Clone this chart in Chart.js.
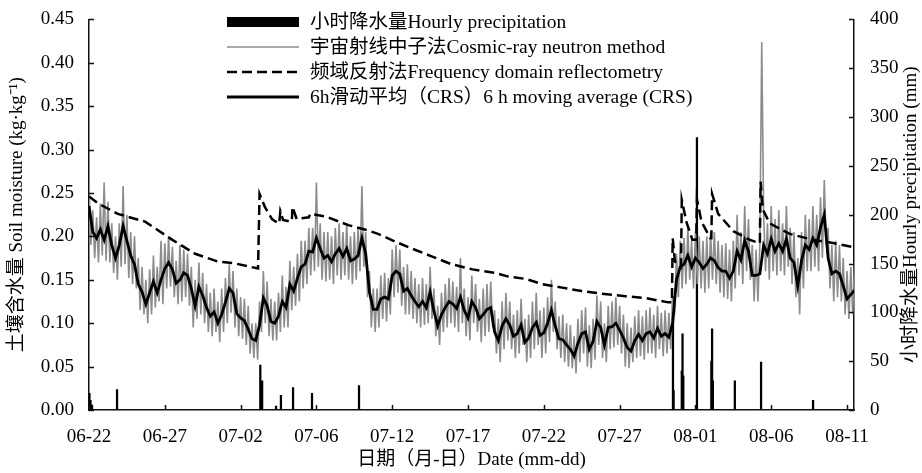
<!DOCTYPE html>
<html>
<head>
<meta charset="utf-8">
<script src="https://cdn.jsdelivr.net/npm/chart.js@4"></script>
<style>
html, body { margin: 0; padding: 0; background: #fff; }
#wrap { width: 922px; height: 473px; }
</style>
</head>
<body>
<div id="wrap"><canvas id="soilChart" width="922" height="473"></canvas></div>
<script>
// ---- data (x in days since 06-22 00:00) ----

const xTickLabels = ['06-22', '06-27', '07-02', '07-06', '07-12', '07-17', '07-22', '07-27', '08-01', '08-06', '08-11'];

// cosmic-ray neutron (CRS) soil moisture, one value every 3 h
const crsStep = 0.125;
const crsValues = [
    0.258, 0.19, 0.23, 0.175, 0.222, 0.17, 0.238, 0.178,
    0.262, 0.172, 0.24, 0.17, 0.215, 0.158, 0.2, 0.15,
    0.215, 0.165, 0.258, 0.168, 0.225, 0.152, 0.205, 0.145,
    0.2, 0.14, 0.175, 0.115, 0.165, 0.11, 0.15, 0.1,
    0.162, 0.11, 0.178, 0.118, 0.165, 0.125, 0.195, 0.122,
    0.192, 0.14, 0.2, 0.142, 0.188, 0.13, 0.172, 0.122,
    0.19, 0.125, 0.185, 0.13, 0.18, 0.12, 0.165, 0.095,
    0.15, 0.105, 0.17, 0.11, 0.158, 0.1, 0.145, 0.09,
    0.135, 0.085, 0.14, 0.09, 0.125, 0.078, 0.14, 0.09,
    0.152, 0.1, 0.168, 0.112, 0.16, 0.095, 0.14, 0.085,
    0.13, 0.082, 0.128, 0.075, 0.12, 0.065, 0.1, 0.06,
    0.1, 0.058, 0.125, 0.09, 0.16, 0.1, 0.148, 0.085,
    0.128, 0.08, 0.125, 0.08, 0.135, 0.09, 0.155, 0.095,
    0.142, 0.095, 0.172, 0.115, 0.165, 0.12, 0.18, 0.125,
    0.195, 0.14, 0.195, 0.145, 0.21, 0.155, 0.21, 0.16,
    0.262, 0.165, 0.215, 0.15, 0.205, 0.148, 0.205, 0.15,
    0.2, 0.145, 0.21, 0.155, 0.215, 0.15, 0.205, 0.155,
    0.215, 0.15, 0.2, 0.145, 0.205, 0.15, 0.21, 0.16,
    0.258, 0.165, 0.205, 0.13, 0.16, 0.095, 0.14, 0.09,
    0.14, 0.095, 0.155, 0.105, 0.158, 0.102, 0.152, 0.11,
    0.185, 0.13, 0.19, 0.135, 0.185, 0.12, 0.165, 0.11,
    0.168, 0.11, 0.16, 0.105, 0.152, 0.1, 0.145, 0.095,
    0.152, 0.098, 0.145, 0.1, 0.165, 0.105, 0.14, 0.085,
    0.12, 0.075, 0.135, 0.09, 0.145, 0.095, 0.152, 0.1,
    0.148, 0.095, 0.142, 0.09, 0.175, 0.1, 0.14, 0.085,
    0.13, 0.08, 0.155, 0.1, 0.145, 0.09, 0.128, 0.078,
    0.14, 0.085, 0.145, 0.09, 0.148, 0.095, 0.115, 0.065,
    0.105, 0.055, 0.125, 0.07, 0.135, 0.08, 0.125, 0.07,
    0.11, 0.06, 0.115, 0.065, 0.128, 0.075, 0.105, 0.055,
    0.11, 0.06, 0.125, 0.07, 0.135, 0.075, 0.115, 0.06,
    0.118, 0.065, 0.13, 0.078, 0.15, 0.09, 0.125, 0.07,
    0.108, 0.06, 0.11, 0.055, 0.1, 0.05, 0.098, 0.048,
    0.085, 0.042, 0.105, 0.055, 0.115, 0.065, 0.118, 0.05,
    0.098, 0.048, 0.105, 0.058, 0.132, 0.075, 0.125, 0.06,
    0.1, 0.055, 0.12, 0.07, 0.125, 0.072, 0.13, 0.075,
    0.12, 0.065, 0.11, 0.05, 0.1, 0.048, 0.095, 0.055,
    0.108, 0.06, 0.115, 0.062, 0.108, 0.058, 0.115, 0.065,
    0.118, 0.065, 0.11, 0.06, 0.12, 0.07, 0.112, 0.062,
    0.115, 0.065, 0.112, 0.07, 0.13, 0.11, 0.18, 0.13,
    0.195, 0.14, 0.198, 0.145, 0.21, 0.15, 0.195, 0.14,
    0.205, 0.145, 0.2, 0.14, 0.195, 0.135, 0.2, 0.14,
    0.205, 0.15, 0.205, 0.145, 0.195, 0.135, 0.19, 0.13,
    0.192, 0.128, 0.185, 0.125, 0.195, 0.14, 0.225, 0.155,
    0.205, 0.145, 0.235, 0.16, 0.22, 0.15, 0.19, 0.125,
    0.185, 0.125, 0.19, 0.424, 0.225, 0.16, 0.215, 0.15,
    0.235, 0.16, 0.22, 0.155, 0.23, 0.16, 0.215, 0.155,
    0.235, 0.165, 0.21, 0.145, 0.205, 0.13, 0.175, 0.11,
    0.205, 0.14, 0.225, 0.16, 0.22, 0.16, 0.235, 0.165,
    0.225, 0.16, 0.245, 0.175, 0.265, 0.19, 0.21, 0.14,
    0.19, 0.125, 0.195, 0.13, 0.19, 0.125, 0.175, 0.11,
    0.16, 0.105, 0.165, 0.11, 0.17
];

// 6 h moving average of CRS, one value every 6 h
const avgStep = 0.25;
const avgValues = [
    0.235, 0.205, 0.198, 0.208, 0.196, 0.212, 0.19, 0.175,
    0.19, 0.212, 0.195, 0.178, 0.168, 0.145, 0.136, 0.122,
    0.135, 0.148, 0.135, 0.15, 0.163, 0.17, 0.162, 0.146,
    0.15, 0.158, 0.155, 0.14, 0.12, 0.142, 0.132, 0.118,
    0.108, 0.113, 0.1, 0.11, 0.124, 0.14, 0.135, 0.111,
    0.106, 0.103, 0.093, 0.082, 0.08, 0.098, 0.129, 0.12,
    0.102, 0.1, 0.108, 0.125, 0.118, 0.145, 0.137, 0.152,
    0.165, 0.168, 0.183, 0.182, 0.198, 0.186, 0.175, 0.178,
    0.171, 0.18, 0.186, 0.177, 0.186, 0.172, 0.174, 0.178,
    0.198, 0.18, 0.136, 0.116, 0.116, 0.128, 0.13, 0.128,
    0.155, 0.16, 0.157, 0.137, 0.14, 0.132, 0.125, 0.119,
    0.125, 0.118, 0.136, 0.114, 0.097, 0.11, 0.118, 0.125,
    0.122, 0.117, 0.13, 0.115, 0.106, 0.125, 0.118, 0.105,
    0.11, 0.116, 0.118, 0.09, 0.08, 0.097, 0.105, 0.098,
    0.085, 0.088, 0.098, 0.078, 0.083, 0.095, 0.101, 0.086,
    0.089, 0.1, 0.115, 0.097, 0.082, 0.081, 0.075, 0.07,
    0.062, 0.077, 0.088, 0.09, 0.07, 0.079, 0.102, 0.095,
    0.075, 0.095, 0.096, 0.1, 0.092, 0.083, 0.072, 0.068,
    0.08, 0.087, 0.08, 0.088, 0.09, 0.083, 0.094, 0.085,
    0.088, 0.084, 0.1, 0.15, 0.165, 0.168, 0.178, 0.165,
    0.175, 0.17, 0.163, 0.168, 0.175, 0.172, 0.164, 0.16,
    0.16, 0.152, 0.16, 0.183, 0.173, 0.195, 0.183, 0.155,
    0.155, 0.157, 0.19, 0.18, 0.197, 0.183, 0.192, 0.183,
    0.197, 0.175, 0.17, 0.143, 0.172, 0.19, 0.185, 0.198,
    0.19, 0.21, 0.225, 0.175, 0.157, 0.16, 0.157, 0.143,
    0.128, 0.133, 0.138
];

// frequency domain reflectometry (FDR)
const fdrDays = [
    0, 0.6, 1.9, 3.7, 5.5, 7.0, 8.5, 9.6,
    11.15, 11.25, 11.6, 12.07, 12.4, 12.55, 12.62, 12.8,
    13.26, 13.38, 13.42, 13.7, 14.5, 14.6, 15.6, 17.1,
    18.2, 19.06, 20.2, 21.3, 22.6, 23.9, 25.3, 26.8,
    27.6, 28.8, 29.9, 31.2, 32.5, 33.8, 35.4, 36.7,
    38.2, 38.45, 38.5, 38.65, 38.9, 39.05, 39.1, 39.4,
    39.8, 40.05, 40.1, 40.4, 40.98, 41.05, 41.1, 41.5,
    42.5, 43.6, 44.25, 44.3, 44.45, 44.9, 46.2, 47.76,
    48.9, 50.3
];
const fdrValues = [
    0.246, 0.238, 0.226, 0.217, 0.196, 0.18, 0.171, 0.169,
    0.163, 0.249, 0.234, 0.22, 0.216, 0.215, 0.229, 0.219,
    0.217, 0.218, 0.234, 0.22, 0.222, 0.226, 0.223, 0.213,
    0.208, 0.203, 0.194, 0.186, 0.177, 0.168, 0.162, 0.158,
    0.154, 0.151, 0.145, 0.141, 0.137, 0.134, 0.131, 0.129,
    0.124, 0.124, 0.198, 0.171, 0.168, 0.165, 0.242, 0.217,
    0.196, 0.196, 0.243, 0.217, 0.198, 0.198, 0.249, 0.226,
    0.206, 0.196, 0.192, 0.263, 0.231, 0.215, 0.203, 0.196,
    0.193, 0.188
];

// hourly precipitation (mm)
const rainDays = [0.03, 0.1, 0.2, 1.85, 11.3, 11.36, 11.42, 12.34, 12.66, 13.46, 14.71, 17.81,
    38.52, 38.56, 39.1, 39.15, 39.2, 40.1, 41.05, 41.1, 41.15, 42.6, 44.33, 47.76];
const rainMm = [17, 10, 5, 21, 46, 20, 30, 4, 15, 23, 17, 25,
    116, 20, 40, 78, 35, 279, 50, 83, 30, 30, 49, 10];

// ---- chart ----

const serif = "'Liberation Serif', 'Times New Roman', 'Noto Sans CJK SC', serif";
const tickFont = { family: serif, size: 19 };

function stepPoints(values, step) {
    return values.map((v, i) => ({ x: i * step, y: v }));
}
function pairPoints(xs, ys) {
    return xs.map((x, i) => ({ x: x, y: ys[i] }));
}

// inward tick marks on all three axes
const inwardTicks = {
    id: 'inwardTicks',
    afterDraw(chart) {
        const ctx = chart.ctx;
        const a = chart.chartArea;
        const len = 5;
        ctx.save();
        ctx.strokeStyle = '#111';
        ctx.lineWidth = 1.5;
        ctx.beginPath();
        chart.scales.x.ticks.forEach(t => {
            const px = Math.round(chart.scales.x.getPixelForValue(t.value)) + 0.5;
            ctx.moveTo(px, a.bottom);
            ctx.lineTo(px, a.bottom - len);
        });
        chart.scales.y.ticks.forEach(t => {
            const py = Math.round(chart.scales.y.getPixelForValue(t.value)) + 0.5;
            ctx.moveTo(a.left, py);
            ctx.lineTo(a.left + len, py);
        });
        chart.scales.y1.ticks.forEach(t => {
            const py = Math.round(chart.scales.y1.getPixelForValue(t.value)) + 0.5;
            ctx.moveTo(a.right, py);
            ctx.lineTo(a.right - len, py);
        });
        ctx.stroke();
        ctx.restore();
    }
};

// legend in the upper middle + right axis title read bottom-to-top
const soilLegend = {
    id: 'soilLegend',
    afterDraw(chart) {
        const ctx = chart.ctx;
        const x0 = 227, x1 = 299, tx = 310;
        const rows = [22, 47, 72, 97];
        const order = [3, 0, 1, 2];
        ctx.save();
        ctx.font = "19.5px " + serif;
        ctx.textBaseline = 'middle';
        ctx.fillStyle = '#000';
        order.forEach((di, i) => {
            const ds = chart.data.datasets[di];
            const y = rows[i];
            if (ds.type === 'bar') {
                ctx.fillStyle = '#000';
                ctx.fillRect(x0, y - 5, x1 - x0, 10);
            } else {
                ctx.strokeStyle = ds.borderColor;
                ctx.lineWidth = ds.borderWidth;
                ctx.setLineDash(ds.borderDash || []);
                ctx.beginPath();
                ctx.moveTo(x0, y);
                ctx.lineTo(x1, y);
                ctx.stroke();
                ctx.setLineDash([]);
            }
            ctx.fillStyle = '#000';
            ctx.fillText(ds.label, tx, y + 1);
        });

        // right axis title
        const a = chart.chartArea;
        ctx.translate(911, (a.top + a.bottom) / 2);
        ctx.rotate(-Math.PI / 2);
        ctx.textAlign = 'center';
        ctx.font = "19px " + serif;
        ctx.fillText('小时降水量Hourly precipitation (mm)', 0, 0);
        ctx.restore();
    }
};

const ctx = document.getElementById('soilChart');

new Chart(ctx, {
    type: 'line',
    data: {
        datasets: [
            {
                label: '宇宙射线中子法Cosmic-ray neutron method',
                data: stepPoints(crsValues, crsStep),
                borderColor: '#8c8c8c',
                borderWidth: 1.6,
                pointRadius: 0,
                yAxisID: 'y',
                order: 2
            },
            {
                label: '频域反射法Frequency domain reflectometry',
                data: pairPoints(fdrDays, fdrValues),
                borderColor: '#000',
                borderWidth: 2.5,
                borderDash: [10, 5],
                pointRadius: 0,
                yAxisID: 'y',
                order: 1
            },
            {
                label: '6h滑动平均（CRS）6 h moving average (CRS)',
                data: stepPoints(avgValues, avgStep),
                borderColor: '#000',
                borderWidth: 2.8,
                pointRadius: 0,
                yAxisID: 'y',
                order: 0
            },
            {
                type: 'bar',
                label: '小时降水量Hourly precipitation',
                data: pairPoints(rainDays, rainMm),
                backgroundColor: '#000',
                barThickness: 1.6,
                grouped: false,
                yAxisID: 'y1',
                order: 3
            }
        ]
    },
    options: {
        responsive: false,
        animation: false,
        layout: { padding: { top: 16, left: 0, right: 0, bottom: 0 } },
        plugins: {
            legend: { display: false },
            tooltip: { enabled: false }
        },
        scales: {
            x: {
                type: 'linear',
                min: 0,
                max: 50.46,
                offset: false,
                afterBuildTicks: s => { s.ticks = xTickLabels.map((_, i) => ({ value: i * 5 })); },
                afterFit: s => { s.height = 63; },
                grid: { display: false },
                border: { color: '#111', width: 1.5 },
                ticks: {
                    color: '#000',
                    font: tickFont,
                    padding: 8,
                    maxRotation: 0,
                    autoSkip: false,
                    callback: v => xTickLabels[Math.round(v / 5)]
                },
                title: {
                    display: true,
                    text: '日期（月-日）Date (mm-dd)',
                    color: '#000',
                    font: tickFont,
                    padding: { top: 2, bottom: 2 }
                }
            },
            y: {
                position: 'left',
                min: 0,
                max: 0.45,
                afterFit: s => { s.width = 89; },
                grid: { display: false },
                border: { color: '#111', width: 1.5 },
                ticks: {
                    stepSize: 0.05,
                    color: '#000',
                    font: tickFont,
                    padding: 7,
                    callback: v => v.toFixed(2)
                },
                title: {
                    display: true,
                    text: '土壤含水量 Soil moisture (kg·kg⁻¹)',
                    color: '#000',
                    font: tickFont,
                    padding: { top: 6, bottom: 0 }
                }
            },
            y1: {
                position: 'right',
                min: 0,
                max: 400,
                afterFit: s => { s.width = 68; },
                grid: { display: false },
                border: { color: '#111', width: 1.5 },
                ticks: {
                    stepSize: 50,
                    color: '#000',
                    font: tickFont,
                    padding: 8
                }
            }
        }
    },
    plugins: [inwardTicks, soilLegend]
});
</script>
</body>
</html>
